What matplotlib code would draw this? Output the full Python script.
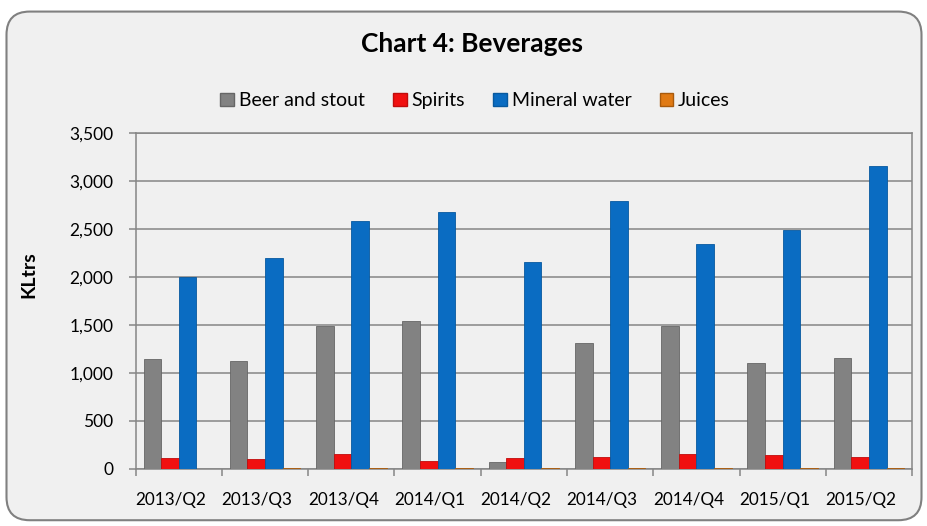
import numpy as np
import matplotlib
matplotlib.use('Agg')
import matplotlib.pyplot as plt
import matplotlib.transforms as mtransforms
from matplotlib.patches import FancyBboxPatch, Patch

plt.rcParams['font.family'] = ['Lato', 'DejaVu Sans']

quarters = ['2013/Q2', '2013/Q3', '2013/Q4', '2014/Q1', '2014/Q2',
            '2014/Q3', '2014/Q4', '2015/Q1', '2015/Q2']
beer = [1140, 1125, 1490, 1540, 70, 1310, 1490, 1100, 1150]
spirits = [112, 104, 157, 84, 115, 125, 157, 146, 126]
water = [1996, 2200, 2580, 2680, 2160, 2790, 2340, 2490, 3160]
juices = [0, 5, 5, 5, 5, 5, 5, 5, 5]

names = ['Beer and stout', 'Spirits', 'Mineral water', 'Juices']
colors = ['#828282', '#F01010', '#0A6CC2', '#E07A14']
edges = ['#666666', '#c00c0c', '#08599f', '#a85a0c']

fig = plt.figure(figsize=(9.28, 5.26), dpi=100)
fig.patch.set_facecolor('white')

# rounded frame round the chart
frame = FancyBboxPatch((0.007, 0.011), 0.986, 0.967,
                       boxstyle='round,pad=0,rounding_size=0.025',
                       transform=fig.transFigure, facecolor='#F0F0F0',
                       edgecolor='#808080', linewidth=1.5, mutation_aspect=928/526,
                       zorder=-10)
fig.patches.append(frame)

ax = fig.add_axes([0.1462, 0.109, 0.8366, 0.638])
ax.set_facecolor('#F0F0F0')

x = np.arange(len(quarters))
w = 0.204
series = [beer, spirits, water, juices]
for i, vals in enumerate(series):
    ax.bar(x + (i - 1.5) * w, vals, width=w, color=colors[i],
           edgecolor=edges[i], linewidth=0.6, zorder=3)

ax.set_xlim(-0.5, len(quarters) - 0.5)
ax.set_ylim(0, 3500)
ax.set_yticks(np.arange(0, 3501, 500))
ax.set_yticklabels([f'{v:,}' for v in range(0, 3501, 500)])
ax.yaxis.grid(True, color='#868686', linewidth=1.1, zorder=0)
ax.set_xticks(x)
ax.set_xticklabels(quarters)
ax.set_xticks(np.arange(-0.5, len(quarters)), minor=True)
ax.tick_params(axis='x', which='major', length=0, pad=17, labelsize=12.3)
ax.tick_params(axis='x', which='minor', length=5, color='#868686', width=1.1)
ax.tick_params(axis='y', length=5, color='#868686', width=1.1, labelsize=12.5, pad=11)
shift = mtransforms.ScaledTranslation(-8 / 100, 0, fig.dpi_scale_trans)
for lab in ax.get_xticklabels():
    lab.set_transform(lab.get_transform() + shift)
for s in ax.spines.values():
    s.set_color('#868686')
    s.set_linewidth(1.1)

ax.set_ylabel('KLtrs', fontsize=14, fontweight='bold')
ax.yaxis.set_label_coords(-0.126, 0.577)

fig.text(0.509, 0.916, 'Chart 4: Beverages', ha='center', va='center',
         fontsize=19, fontweight='bold')

handles = [Patch(facecolor=colors[i], edgecolor=edges[i]) for i in range(4)]
fig.legend(handles, names, loc='center', bbox_to_anchor=(0.512, 0.808), ncol=4,
           frameon=False, fontsize=14, handlelength=0.7, handleheight=0.7,
           handletextpad=0.25, columnspacing=1.45, borderpad=0)

fig.savefig('out.png', dpi=100, facecolor=fig.get_facecolor())
